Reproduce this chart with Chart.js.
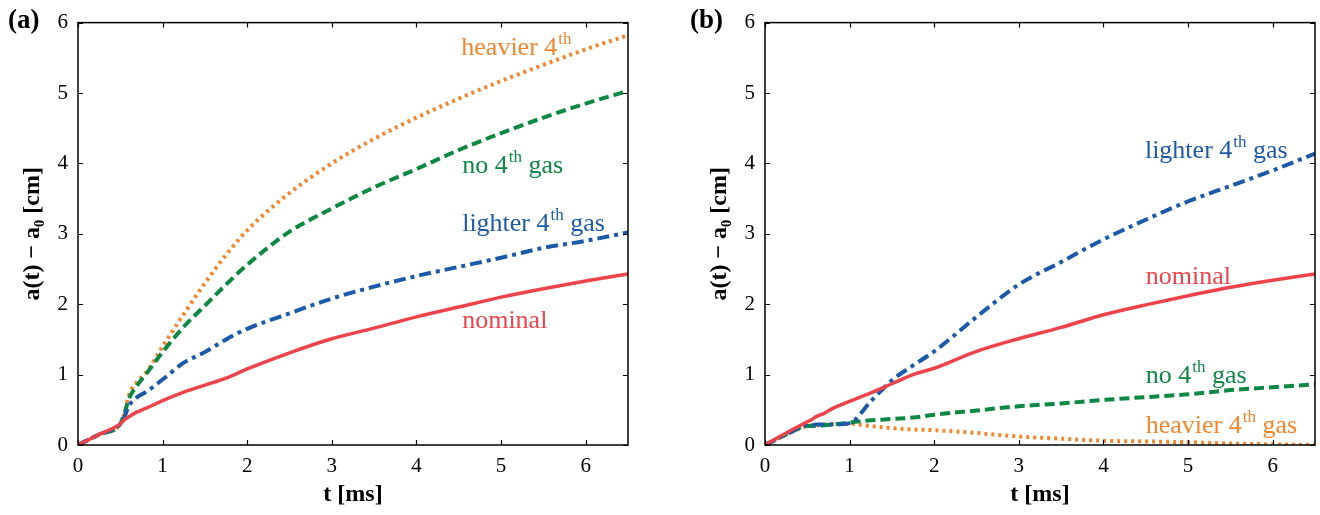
<!DOCTYPE html>
<html>
<head>
<meta charset="utf-8">
<script src="https://cdn.jsdelivr.net/npm/chart.js@4.4.1/dist/chart.umd.min.js"></script>
<style>
  html, body { margin: 0; padding: 0; background: #fff; }
  #wrap { position: relative; width: 1320px; height: 515px; }
  .pane { position: absolute; top: 0; width: 660px; height: 515px; }
  #pa { left: 0; }
  #pb { left: 660px; }
</style>
</head>
<body>
<div id="wrap">
  <div class="pane" id="pa"><canvas id="ca" width="660" height="515"></canvas></div>
  <div class="pane" id="pb"><canvas id="cb" width="660" height="515"></canvas></div>
</div>
<script>
// ---- data (t in ms, a(t)-a0 in cm) ----
const time = [0, 0.25, 0.5, 0.55, 0.6, 0.7, 0.8, 1.0, 1.25, 1.5, 1.75, 2.0, 2.5, 3.0, 3.5, 4.0, 4.5, 5.0, 5.5, 6.0, 6.5];

// panel (a)
const nominalA = [0, 0.15, 0.30, 0.36, 0.40, 0.47, 0.52, 0.63, 0.75, 0.85, 0.95, 1.08, 1.31, 1.51, 1.66, 1.82, 1.96, 2.10, 2.22, 2.33, 2.43];
const lighterA = [0, 0.15, 0.30, 0.40, 0.55, 0.68, 0.75, 0.93, 1.17, 1.32, 1.50, 1.65, 1.87, 2.08, 2.25, 2.40, 2.53, 2.66, 2.80, 2.90, 3.02];
const noGasA   = [0, 0.15, 0.30, 0.45, 0.65, 0.85, 1.00, 1.32, 1.68, 1.98, 2.28, 2.56, 3.03, 3.36, 3.66, 3.92, 4.19, 4.43, 4.65, 4.85, 5.03];
const heavierA = [0, 0.15, 0.30, 0.45, 0.70, 0.90, 1.02, 1.40, 1.86, 2.30, 2.70, 3.05, 3.58, 4.00, 4.35, 4.65, 4.92, 5.17, 5.40, 5.62, 5.82];

// panel (b)
const nominalB = [0, 0.17, 0.33, 0.36, 0.40, 0.45, 0.52, 0.62, 0.74, 0.87, 1.00, 1.09, 1.33, 1.51, 1.67, 1.85, 1.99, 2.12, 2.24, 2.34, 2.43];
const lighterB = [0, 0.15, 0.28, 0.28, 0.29, 0.29, 0.29, 0.31, 0.62, 0.92, 1.13, 1.33, 1.82, 2.28, 2.60, 2.92, 3.20, 3.46, 3.68, 3.90, 4.14];
const noGasB   = [0, 0.15, 0.27, 0.27, 0.27, 0.28, 0.29, 0.32, 0.35, 0.37, 0.39, 0.43, 0.49, 0.55, 0.59, 0.64, 0.68, 0.72, 0.78, 0.82, 0.86];
const heavierB = [0, 0.15, 0.27, 0.28, 0.28, 0.29, 0.30, 0.30, 0.27, 0.24, 0.22, 0.21, 0.17, 0.12, 0.09, 0.06, 0.05, 0.04, 0.02, 0.01, 0.00];

const xTicks = [0, 1, 2, 3, 4, 5, 6];
const yTicks = [0, 1, 2, 3, 4, 5, 6];

// ---- styling ----
const SERIF = '"Liberation Serif", "Times New Roman", "DejaVu Serif", serif';
const C = { nominal: '#ee434b', lighter: '#1b5aab', noGas: '#0b8843', heavier: '#f5842a' };

function pts(ys) { return time.map((t, i) => ({ x: t, y: ys[i] })); }

function datasets(nom, lig, nog, hev) {
  const base = { pointRadius: 0, fill: false, cubicInterpolationMode: 'monotone', borderCapStyle: 'butt' };
  return [
    Object.assign({ label: 'nominal', data: pts(nom), borderColor: C.nominal, borderWidth: 3.5 }, base),
    Object.assign({ label: 'lighter 4th gas', data: pts(lig), borderColor: C.lighter, borderWidth: 4, borderDash: [12, 5, 4, 5] }, base),
    Object.assign({ label: 'no 4th gas', data: pts(nog), borderColor: C.noGas, borderWidth: 4, borderDash: [10, 5] }, base),
    Object.assign({ label: 'heavier 4th', data: pts(hev), borderColor: C.heavier, borderWidth: 4, borderDash: [3, 4] }, base)
  ];
}

const decor = {
  id: 'decor',
  afterDraw(chart, args, opts) {
    const ctx = chart.ctx;
    const { left, right, top, bottom } = chart.chartArea;
    const xs = chart.scales.x, ys = chart.scales.y;
    ctx.save();
    ctx.strokeStyle = '#000';
    ctx.lineWidth = 1.2;
    ctx.beginPath();
    xTicks.forEach(v => {
      const p = Math.round(xs.getPixelForValue(v)) + 0.5;
      ctx.moveTo(p, bottom); ctx.lineTo(p, bottom - 5);
      ctx.moveTo(p, top); ctx.lineTo(p, top + 5);
    });
    yTicks.forEach(v => {
      const p = Math.round(ys.getPixelForValue(v)) + 0.5;
      ctx.moveTo(left, p); ctx.lineTo(left + 5, p);
      ctx.moveTo(right, p); ctx.lineTo(right - 5, p);
    });
    ctx.stroke();
    ctx.lineWidth = 1.5;
    ctx.strokeRect(left, top, right - left, bottom - top);

    // panel letter
    ctx.fillStyle = '#000';
    ctx.font = 'bold 27px ' + SERIF;
    ctx.textBaseline = 'middle';
    ctx.textAlign = 'left';
    ctx.fillText(opts.panel, opts.panelX, 21);

    // curve labels
    opts.labels.forEach(l => {
      let x = xs.getPixelForValue(l.t);
      const y = ys.getPixelForValue(l.v);
      ctx.fillStyle = l.color;
      ctx.textBaseline = 'alphabetic';
      ctx.font = '26px ' + SERIF;
      const base = y + 8;
      ctx.fillText(l.pre, x, base);
      x += ctx.measureText(l.pre).width;
      if (l.sup) {
        ctx.font = '17px ' + SERIF;
        ctx.fillText(l.sup, x + 1, base - 11);
        x += ctx.measureText(l.sup).width + 1;
      }
      ctx.font = '26px ' + SERIF;
      if (l.post) ctx.fillText(l.post, x, base);
    });
    ctx.restore();
  }
};

function makeChart(id, ds, padLeft, padRight, panel, panelX, labels) {
  return new Chart(document.getElementById(id), {
    type: 'line',
    data: { datasets: ds },
    options: {
      responsive: false,
      animation: false,
      layout: { padding: { left: padLeft, right: padRight, top: 20, bottom: 0 } },
      plugins: {
        legend: { display: false },
        tooltip: { enabled: false },
        decor: { panel, panelX, labels }
      },
      scales: {
        x: {
          type: 'linear', min: 0, max: 6.5,
          afterBuildTicks: s => { s.ticks = xTicks.map(v => ({ value: v })); },
          afterFit: s => { s.height = 70; },
          grid: { display: false, drawTicks: false },
          border: { display: false },
          ticks: { color: '#000', padding: 9, font: { family: SERIF, size: 21 }, maxRotation: 0 },
          title: { display: true, text: 't [ms]', color: '#000', font: { family: SERIF, size: 24, weight: 'bold' }, padding: { top: 0, bottom: 6 } }
        },
        y: {
          type: 'linear', min: 0, max: 6,
          afterBuildTicks: s => { s.ticks = yTicks.map(v => ({ value: v })); },
          afterFit: s => { s.width = 78; },
          grid: { display: false, drawTicks: false },
          border: { display: false },
          ticks: { color: '#000', padding: 10, font: { family: SERIF, size: 21 } },
          title: { display: true, text: 'a(t) − a₀ [cm]', color: '#000', font: { family: SERIF, size: 24, weight: 'bold' }, padding: { top: 18, bottom: 0 } }
        }
      }
    },
    plugins: [decor]
  });
}

makeChart('ca', datasets(nominalA, lighterA, noGasA, heavierA), 0, 32, '(a)', 8, [
  { pre: 'heavier 4', sup: 'th', post: '', t: 4.53, v: 5.66, color: C.heavier },
  { pre: 'no 4', sup: 'th', post: ' gas', t: 4.54, v: 3.98, color: C.noGas },
  { pre: 'lighter 4', sup: 'th', post: ' gas', t: 4.54, v: 3.15, color: C.lighter },
  { pre: 'nominal', sup: '', post: '', t: 4.54, v: 1.77, color: C.nominal }
]);

makeChart('cb', datasets(nominalB, lighterB, noGasB, heavierB), 27, 5, '(b)', 30, [
  { pre: 'lighter 4', sup: 'th', post: ' gas', t: 4.49, v: 4.19, color: C.lighter },
  { pre: 'nominal', sup: '', post: '', t: 4.50, v: 2.40, color: C.nominal },
  { pre: 'no 4', sup: 'th', post: ' gas', t: 4.50, v: 0.99, color: C.noGas },
  { pre: 'heavier 4', sup: 'th', post: ' gas', t: 4.50, v: 0.28, color: C.heavier }
]);
</script>
</body>
</html>
